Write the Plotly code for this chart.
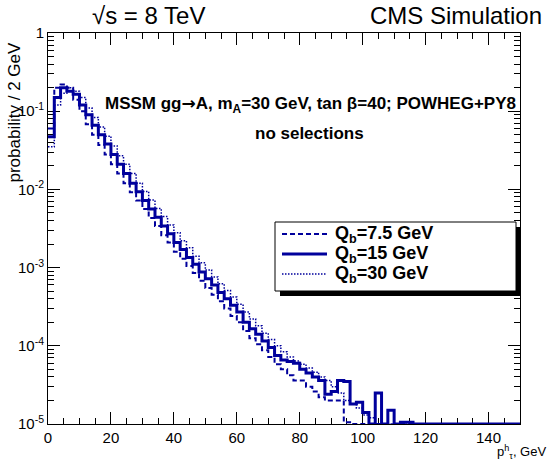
import numpy as np
import plotly.graph_objects as go

# ---------------- data (probability per 2 GeV bin, 0-150 GeV) ----------------
bin_edges = list(range(0, 152, 2))

q75 = [0.060, 0.20, 0.22, 0.20, 0.14, 0.10, 0.068, 0.050, 0.037, 0.028,
       0.021, 0.016, 0.012, 0.0092, 0.0072, 0.0056, 0.0043, 0.0034, 0.0026, 0.0021,
       0.0016, 0.0013, 0.00105, 0.00085, 0.00068, 0.00055, 0.00045, 0.00037, 0.00030, 0.00024,
       0.00020, 0.000155, 0.000125, 0.000105, 0.000088, 0.000072, 0.000058, 0.000050, 0.000042, 0.000036,
       0.000036, 0.000030, 0.000026, 0.000022, 0.000020, 0.000020, 0.000020, 0.0000105, 0, 0,
       0, 0, 0, 0, 0, 0, 0, 0, 0, 0,
       0, 0, 0, 0, 0, 0, 0, 0, 0, 0,
       0, 0, 0, 0, 0]

q15 = [0.047, 0.15, 0.20, 0.18, 0.165, 0.12, 0.09, 0.066, 0.050, 0.038,
       0.028, 0.021, 0.016, 0.012, 0.0093, 0.0072, 0.0056, 0.0044, 0.0034, 0.0027,
       0.0021, 0.0017, 0.00135, 0.0011, 0.00088, 0.00072, 0.00060, 0.00048, 0.00040, 0.00033,
       0.00027, 0.00020, 0.000165, 0.00014, 0.000115, 0.000095, 0.000075, 0.000066, 0.000063, 0.000060,
       0.000050, 0.000045, 0.000040, 0.000036, 0.000024, 0.000026, 0.000036, 0.000035, 0.000018, 0.000019,
       0.000014, 0, 0.000025, 0, 0.000015, 0, 0.0000105, 0.0000105, 0, 0,
       0, 0, 0, 0, 0, 0, 0, 0, 0, 0,
       0, 0, 0, 0, 0]

q30 = [0.035, 0.12, 0.17, 0.20, 0.18, 0.15, 0.11, 0.083, 0.063, 0.048,
       0.036, 0.027, 0.021, 0.016, 0.012, 0.0094, 0.0073, 0.0057, 0.0045, 0.0035,
       0.0028, 0.0022, 0.0018, 0.0014, 0.00115, 0.00093, 0.00076, 0.00062, 0.00051, 0.00042,
       0.00034, 0.00027, 0.00022, 0.00018, 0.000145, 0.000120, 0.000100, 0.000084, 0.000072, 0.000064,
       0.000058, 0.000052, 0.000046, 0.000040, 0.000036, 0.000030, 0.000025, 0.000020, 0.000018, 0.000016,
       0.000013, 0.000012, 0, 0, 0, 0, 0, 0, 0, 0,
       0, 0, 0, 0, 0, 0, 0, 0, 0, 0,
       0, 0, 0, 0, 0]

series_names = ["Q<sub>b</sub>=7.5 GeV", "Q<sub>b</sub>=15 GeV", "Q<sub>b</sub>=30 GeV"]
x_ticks = [0, 20, 40, 60, 80, 100, 120, 140]
y_ticks = [1e-5, 1e-4, 1e-3, 1e-2, 1e-1, 1]
y_tick_text = ["10<sup>-5</sup>", "10<sup>-4</sup>", "10<sup>-3</sup>", "10<sup>-2</sup>", "10<sup>-1</sup>", "1"]

# ---------------- layout geometry ----------------
W, H = 549, 461
L, R, T, B = 48, 520, 33, 424          # plot frame in pixels
FONT = "Liberation Sans, Arial, Helvetica, sans-serif"
BLUE = "#00009C"

def px(x):
    return (x - L) / (R - L)

def py(y):
    return (B - y) / (B - T)

styles = [dict(dash="5px,3px", width=2), dict(dash="solid", width=3), dict(dash="1.5px,1.5px", width=1.5)]

fig = go.Figure()
YMIN = 1e-5
for name, vals, st in zip(series_names, [q75, q15, q30], styles):
    v = np.array(vals, dtype=float)
    v = np.where(v > 0, v, YMIN)
    yy = list(v) + [v[-1]]
    fig.add_trace(go.Scatter(x=bin_edges, y=yy, mode="lines", line_shape="hv",
                             name=name, showlegend=False,
                             line=dict(color=BLUE, width=st["width"], dash=st["dash"])))

# minor ticks
x_minor = [v for v in range(5, 150, 5) if v % 20 != 0]
y_minor = [m * 10.0 ** e for e in range(-5, 0) for m in range(2, 10)]

fig.update_layout(
    width=W, height=H,
    margin=dict(l=L, r=W - R, t=T, b=H - B, pad=0),
    paper_bgcolor="white", plot_bgcolor="white",
    font=dict(family=FONT, color="black"),
    showlegend=False,
    xaxis=dict(range=[0, 150], showgrid=False, zeroline=False,
               showline=True, linecolor="black", linewidth=1, mirror="allticks",
               ticks="inside", ticklen=12, tickcolor="black", tickwidth=1,
               tickmode="array", tickvals=x_ticks, ticktext=[str(v) for v in x_ticks],
               tickfont=dict(size=15, family=FONT), layer="below traces",
               minor=dict(ticks="inside", ticklen=6, tickcolor="black", tickmode="array",
                          tickvals=x_minor, showgrid=False)),
    yaxis=dict(type="log", range=[-5, 0], showgrid=False, zeroline=False,
               showline=True, linecolor="black", linewidth=1, mirror="allticks",
               ticks="inside", ticklen=12, tickcolor="black", tickwidth=1,
               tickmode="array", tickvals=y_ticks, ticktext=y_tick_text,
               tickfont=dict(size=15, family=FONT), layer="below traces",
               minor=dict(ticks="inside", ticklen=6, tickcolor="black", tickmode="array",
                          tickvals=y_minor, showgrid=False)),
)

ann = []
# header texts
ann.append(dict(text="√s = 8 TeV", x=px(90), y=py(15), xref="paper", yref="paper",
                xanchor="left", yanchor="middle", showarrow=False,
                font=dict(size=24, family=FONT)))
ann.append(dict(text="CMS Simulation", x=px(544), y=py(15), xref="paper", yref="paper",
                xanchor="right", yanchor="middle", showarrow=False,
                font=dict(size=24, family=FONT)))
# process label
ann.append(dict(text="<b>MSSM gg<span style=\"font-family:'DejaVu Sans'\">→</span>A, m<sub>A</sub>=30 GeV, tan β=40; POWHEG+PY8</b>",
                x=px(310), y=py(104), xref="paper", yref="paper",
                xanchor="center", yanchor="middle", showarrow=False,
                font=dict(size=17, family=FONT)))
ann.append(dict(text="<b>no selections</b>", x=px(309), y=py(133), xref="paper", yref="paper",
                xanchor="center", yanchor="middle", showarrow=False,
                font=dict(size=17, family=FONT)))
# axis titles
ann.append(dict(text="probability / 2 GeV", x=px(14), y=py(40), xref="paper", yref="paper",
                xanchor="center", yanchor="top", textangle=-90, showarrow=False,
                font=dict(size=17, family=FONT)))
ann.append(dict(text="p<sup>h</sup><sub>τ</sub>, GeV", x=px(548), y=py(452), xref="paper", yref="paper",
                xanchor="right", yanchor="middle", showarrow=False,
                font=dict(size=13, family=FONT)))

# legend (box with shadow)
shapes = []
lx0, lx1, ly0, ly1 = 275, 516, 222, 291
shapes.append(dict(type="rect", xref="paper", yref="paper",
                   x0=px(lx0 + 5), x1=px(lx1 + 5), y0=py(ly1 + 5), y1=py(ly0 + 5),
                   fillcolor="black", line=dict(width=0), layer="above"))
shapes.append(dict(type="rect", xref="paper", yref="paper",
                   x0=px(lx0), x1=px(lx1), y0=py(ly1), y1=py(ly0),
                   fillcolor="white", line=dict(color="black", width=1), layer="above"))
entry_y = [234, 254, 274]
for name, st, ey in zip(series_names, styles, entry_y):
    shapes.append(dict(type="line", xref="paper", yref="paper",
                       x0=px(282), x1=px(327), y0=py(ey), y1=py(ey),
                       line=dict(color=BLUE, width=st["width"], dash=st["dash"]), layer="above"))
    ann.append(dict(text="<b>" + name + "</b>", x=px(333), y=py(ey), xref="paper", yref="paper",
                    xanchor="left", yanchor="middle", showarrow=False,
                    font=dict(size=18, family=FONT)))

fig.update_layout(annotations=ann, shapes=shapes)
fig.write_html("out.html")
